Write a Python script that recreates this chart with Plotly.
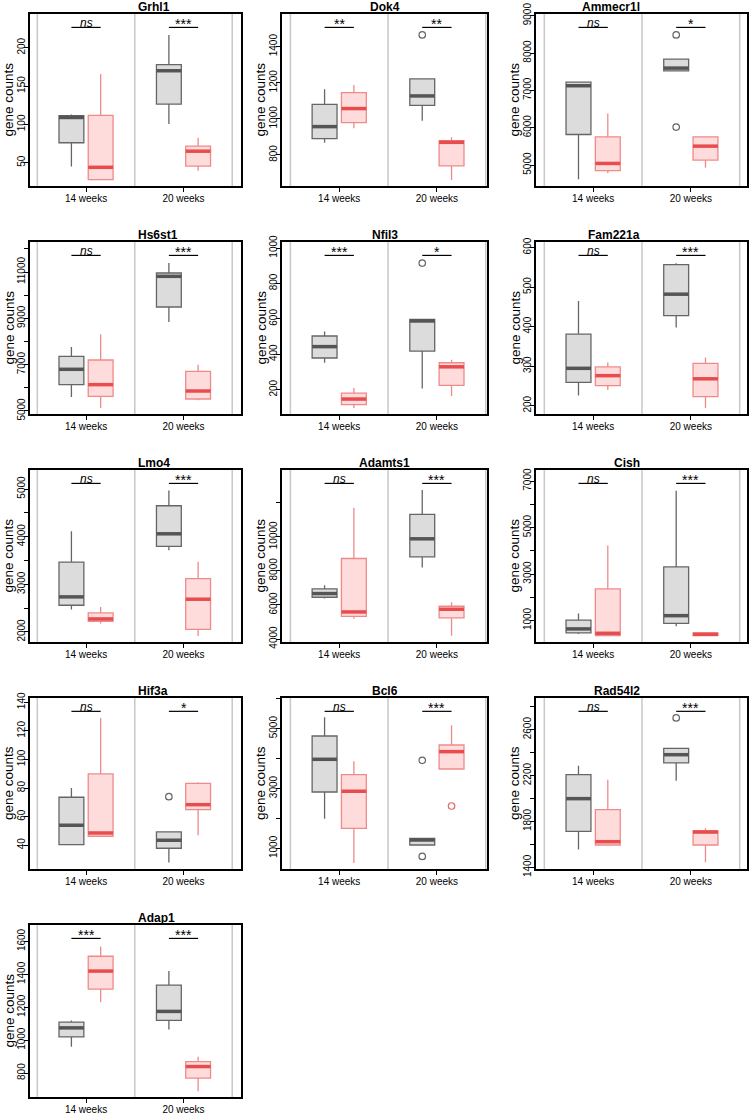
import plotly.graph_objects as go

W, H = 750, 1116

genes = ["Grhl1", "Dok4", "Ammecr1l", "Hs6st1", "Nfil3", "Fam221a",
         "Lmo4", "Adamts1", "Cish", "Hif3a", "Bcl6", "Rad54l2", "Adap1"]
groups = ["14 weeks", "20 weeks"]

sig_14 = ["ns", "**", "ns", "ns", "***", "ns", "ns", "ns", "ns", "ns", "ns", "ns", "***"]
sig_20 = ["***", "**", "*", "***", "*", "***", "***", "***", "***", "*", "***", "***", "***"]

# grey boxes, 14 weeks: lower whisker, q1, median, q3, upper whisker
g14_low = [45, 868, 4618, 5604, 352, 226, 2470, 6373, 420, 40, 1993, 1557, 960]
g14_q1 = [76, 890, 5818, 6137, 379, 259, 2561, 6451, 463, 40.5, 2884, 1714, 1020]
g14_med = [109, 957, 7124, 6799, 443, 294.5, 2737, 6667, 637, 54, 3976, 1999, 1075]
g14_q3 = [111.3, 1080, 7222, 7360, 503, 381, 3465, 6941, 1013, 73.6, 4755, 2208, 1110]
g14_high = [113, 1164, 7222, 7763, 529, 465, 4117, 7157, 1303, 80, 5379, 2286, 1120]
g14_out = [[], [], [], [], [], [], [], [], [], [], [], [], []]

# pink boxes, 14 weeks
p14_low = [28, 948, 4778, 5129, 96, 240, 2176, 5196, 347, 46.3, 510, 1595, 1230]
p14_q1 = [28, 979, 4849, 5633, 115, 250.6, 2225, 5333, 347, 46.3, 1670, 1595, 1310]
p14_med = [44, 1057, 5044, 6137, 147, 276, 2274, 5588, 448, 48.6, 2909, 1624, 1420]
p14_q3 = [111.7, 1145, 5756, 7201, 181, 298, 2400, 8725, 2358, 89.9, 3463, 1903, 1510]
p14_high = [165.6, 1188, 6378, 8309, 209, 309, 2526, 11706, 4224, 129, 3909, 2164, 1570]
p14_out = [[], [], [], [], [], [], [], [], [], [], [], [], []]

# grey boxes, 20 weeks
g20_low = [100.4, 990, 7524, 8842, 206, 398, 3718, 8196, 752, 28, 1114, 2156, 1065]
g20_q1 = [126.5, 1075, 7524, 9489, 418, 428, 3795, 8824, 875, 37.9, 1114, 2310, 1120]
g20_med = [170, 1127, 7596, 10813, 588, 482, 4061, 9882, 1207, 43.5, 1281, 2382, 1175]
g20_q3 = [178, 1221, 7836, 10957, 597, 557, 4650, 11314, 3304, 49.3, 1336, 2437, 1335]
g20_high = [216.5, 1221, 7836, 11388, 597, 560, 4972, 12745, 6580, 49.3, 1336, 2437, 1420]
g20_out = [[], [1465], [8484, 6018], [], [915], [], [], [], [], [74], [3943, 733], [2702], []]

# pink boxes, 20 weeks
p20_low = [39.5, 661, 4929, 5460, 164, 194, 1916, 4196, 347, 47, 3653, 1444, 690]
p20_q1 = [45.6, 739, 5133, 5518, 224, 223, 2056, 5235, 347, 64.9, 3653, 1595, 770]
p20_med = [65, 870, 5507, 5863, 329, 268, 2688, 5745, 405, 68.4, 4232, 1708, 840]
p20_q3 = [71.7, 879, 5756, 6712, 352, 307, 3122, 5922, 463, 83.3, 4454, 1720, 870]
p20_high = [82.6, 898, 5756, 7000, 369, 322, 3472, 6157, 463, 84, 5111, 1740, 900]
p20_out = [[], [], [], [], [], [], [], [], [], [], [2416], [], []]

# y axis limits and ticks
y_lo = [19.6, 628, 4440, 4870, 62.6, 179, 1790, 3824, 73, 23.4, 312, 1386, 655]
y_hi = [244, 1581, 9044, 12295, 1034, 614, 5400, 13922, 7477, 143, 6024, 2876, 1700]
y_ticks = [
    [50, 100, 150, 200],
    [800, 1000, 1200, 1400],
    [5000, 6000, 7000, 8000, 9000],
    [5000, 6000, 7000, 8000, 9000, 10000, 11000, 12000],
    [200, 400, 600, 800, 1000],
    [200, 300, 400, 500, 600],
    [2000, 2500, 3000, 3500, 4000, 4500, 5000],
    [4000, 6000, 8000, 10000, 12000],
    [1000, 2000, 3000, 4000, 5000, 6000, 7000],
    [40, 60, 80, 100, 120, 140],
    [1000, 2000, 3000, 4000, 5000, 6000],
    [1400, 1600, 1800, 2000, 2200, 2400, 2600, 2800],
    [800, 1000, 1200, 1400, 1600],
]
y_labels = [
    ["50", "100", "150", "200"],
    ["800", "1000", "1200", "1400"],
    ["5000", "6000", "7000", "8000", "9000"],
    ["5000", "", "7000", "", "9000", "", "11000", ""],
    ["200", "400", "600", "800", "1000"],
    ["200", "300", "400", "500", "600"],
    ["2000", "", "3000", "", "4000", "", "5000"],
    ["4000", "6000", "8000", "10000", ""],
    ["1000", "", "3000", "", "5000", "", "7000"],
    ["40", "60", "80", "100", "120", "140"],
    ["1000", "", "3000", "", "5000", ""],
    ["1400", "", "1800", "", "2200", "", "2600", ""],
    ["800", "1000", "1200", "1400", "1600"],
]

# panel frames in pixels
col_px = [(30, 241), (282, 487), (536, 747)]
col_xrange = [(0.425, 2.59), (0.414, 2.513), (0.415, 2.575)]
row_px = [(14, 186), (242, 414), (470, 642), (698, 869), (925, 1097)]

OFF = 0.15
BW = 0.255
FONT = "Liberation Sans, Arial, sans-serif"

grey = dict(fill="#dcdcdc", line="#666666", med="#555555", out="#666666")
pink = dict(fill="#ffdcdc", line="#ef8a8a", med="#e84c4c", out="#e06a6a")

series = [
    (1 - OFF, grey, g14_low, g14_q1, g14_med, g14_q3, g14_high, g14_out),
    (1 + OFF, pink, p14_low, p14_q1, p14_med, p14_q3, p14_high, p14_out),
    (2 - OFF, grey, g20_low, g20_q1, g20_med, g20_q3, g20_high, g20_out),
    (2 + OFF, pink, p20_low, p20_q1, p20_med, p20_q3, p20_high, p20_out),
]

fig = go.Figure()
layout = {}
shapes = []
annotations = []

for i, gene in enumerate(genes):
    r, c = divmod(i, 3)
    n = i + 1
    xs = "" if n == 1 else str(n)
    x0, x1 = col_px[c]
    t0, t1 = row_px[r]

    for pos, col, lo, q1, md, q3, hi, out in series:
        fig.add_trace(go.Box(
            x=[pos], q1=[q1[i]], median=[md[i]], q3=[q3[i]],
            lowerfence=[lo[i]], upperfence=[hi[i]],
            width=BW, whiskerwidth=0, boxpoints=False,
            fillcolor=col["fill"], line=dict(color=col["line"], width=1.3),
            xaxis="x" + xs, yaxis="y" + xs, showlegend=False, hoverinfo="skip"))
        fig.add_trace(go.Scatter(
            x=[pos - BW / 2, pos + BW / 2], y=[md[i], md[i]], mode="lines",
            line=dict(color=col["med"], width=3.5),
            xaxis="x" + xs, yaxis="y" + xs, showlegend=False, hoverinfo="skip"))
        if out[i]:
            fig.add_trace(go.Scatter(
                x=[pos] * len(out[i]), y=out[i], mode="markers",
                marker=dict(symbol="circle-open", size=6.5, color=col["out"],
                            line=dict(width=1.2)),
                xaxis="x" + xs, yaxis="y" + xs, showlegend=False, hoverinfo="skip"))

    layout["xaxis" + xs] = dict(
        domain=[x0 / W, x1 / W], range=list(col_xrange[c]), anchor="y" + xs,
        tickvals=[1, 2], ticktext=groups, ticks="outside", ticklen=4,
        tickwidth=1, tickcolor="black", showline=True, linewidth=2,
        linecolor="black", mirror=True, showgrid=False, zeroline=False,
        automargin=False, ticklabelstandoff=-2,
        tickfont=dict(size=10, color="black", family=FONT))
    layout["yaxis" + xs] = dict(
        domain=[1 - t1 / H, 1 - t0 / H], range=[y_lo[i], y_hi[i]],
        anchor="x" + xs, tickvals=y_ticks[i], ticktext=y_labels[i],
        tickangle=-90, ticks="outside", ticklen=4, tickwidth=1,
        tickcolor="black", showline=True, linewidth=2, linecolor="black",
        mirror=True, showgrid=False, zeroline=False, automargin=False,
        ticklabelstandoff=-5,
        tickfont=dict(size=10, color="black", family=FONT))

    # group separators
    for v in (0.5, 1.5, 2.5):
        shapes.append(dict(type="line", xref="x" + xs, yref="y" + xs + " domain",
                           x0=v, x1=v, y0=0, y1=1, layer="below",
                           line=dict(color="#c8c8c8", width=1.5)))

    # significance bars
    for g, lab in ((1, sig_14[i]), (2, sig_20[i])):
        shapes.append(dict(type="line", xref="x" + xs, yref="y" + xs + " domain",
                           x0=g - OFF, x1=g + OFF, y0=0.922, y1=0.922,
                           line=dict(color="black", width=1.2)))
        italic = lab == "ns"
        annotations.append(dict(
            text="<i>ns</i>" if italic else lab, xref="x" + xs,
            yref="y" + xs + " domain", x=g, y=0.922, yanchor="middle",
            yshift=4 if italic else 3, showarrow=False,
            font=dict(size=12 if italic else 14, color="black", family=FONT)))

    # panel title
    annotations.append(dict(
        text="<b>" + gene + "</b>", xref="paper", yref="paper",
        x=(x0 + x1) / 2 / W, y=1 - (t0 - 7) / H, yanchor="middle",
        showarrow=False, font=dict(size=12, color="black", family=FONT)))
    # y title
    annotations.append(dict(
        text="gene counts", xref="paper", yref="paper",
        x=(x0 - 21.5) / W, y=1 - (t0 + t1) / 2 / H, xanchor="center",
        yanchor="middle", textangle=-90, showarrow=False,
        font=dict(size=13.5, color="black", family=FONT)))

fig.update_layout(
    width=W, height=H, margin=dict(l=0, r=0, t=0, b=0, autoexpand=False),
    paper_bgcolor="white", plot_bgcolor="white",
    font=dict(family=FONT, color="black"),
    shapes=shapes, annotations=annotations, **layout)

# the page's default 8px body margin would shift the figure
fig.write_html("out.html", config={"displayModeBar": False},
               post_script="document.body.style.margin='0';")
